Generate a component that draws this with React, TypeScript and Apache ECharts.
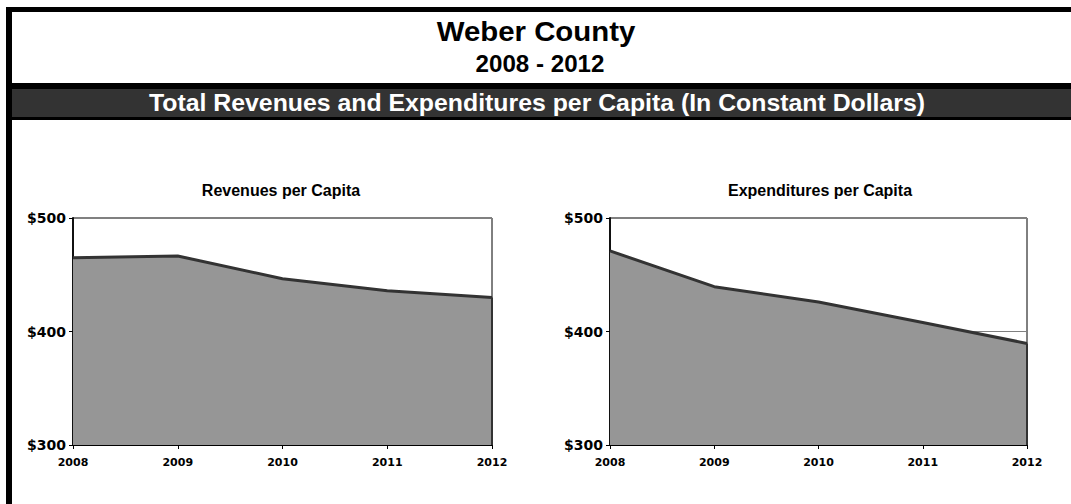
import React, { useEffect, useRef } from "react";
import * as echarts from "echarts";

const years = ["2008", "2009", "2010", "2011", "2012"];
const revenues = [465, 466.5, 446.5, 436, 430];
const expenditures = [471, 439.5, 426, 408, 389.5];
const yMin = 300;
const yMax = 500;
const yStep = 100;

const mainTitle = "Weber County";
const subTitle = "2008 - 2012";
const bannerTitle = "Total Revenues and Expenditures per Capita (In Constant Dollars)";
const chartTitles = ["Revenues per Capita", "Expenditures per Capita"];

const W = 1071;
const H = 504;
const titleFont = "'Liberation Sans', Arial, Helvetica, sans-serif";
const labelFont = "'DejaVu Sans', sans-serif";

function makeSeries(idx: number, name: string, values: number[]) {
  return {
    name,
    type: "line",
    xAxisIndex: idx,
    yAxisIndex: idx,
    data: values,
    symbol: "none",
    smooth: false,
    lineStyle: { color: "#333333", width: 3 },
    areaStyle: { color: "#969696", opacity: 1 },
    markLine: {
      silent: true,
      symbol: "none",
      label: { show: false },
      lineStyle: { color: "#333333", width: 2, type: "solid" },
      data: [
        [
          { coord: [years[years.length - 1], yMin] },
          { coord: [years[years.length - 1], values[values.length - 1]] },
        ],
      ],
    },
  };
}

function makeX(idx: number) {
  return {
    type: "category",
    gridIndex: idx,
    data: years,
    boundaryGap: false,
    axisLine: { show: true, lineStyle: { color: "#000", width: 1 } },
    axisTick: { show: true, inside: false, length: 4, lineStyle: { color: "#000" } },
    axisLabel: {
      color: "#000",
      fontFamily: labelFont,
      fontWeight: "bold",
      fontSize: 11,
      margin: 12,
    },
    splitLine: { show: false },
  };
}

function makeY(idx: number) {
  return {
    type: "value",
    gridIndex: idx,
    min: yMin,
    max: yMax,
    interval: yStep,
    axisLine: { show: true, lineStyle: { color: "#111", width: 2 } },
    axisTick: { show: true, inside: false, length: 4, lineStyle: { color: "#000" } },
    axisLabel: {
      color: "#000",
      fontFamily: labelFont,
      fontWeight: "bold",
      fontSize: 14,
      margin: 7,
      formatter: (v: number) => "$" + v,
    },
    splitLine: { show: true, lineStyle: { color: "#808080", width: 1 } },
  };
}

export default function App() {
  const ref = useRef<HTMLDivElement>(null);
  useEffect(() => {
    if (!ref.current) return;
    const chart = echarts.init(ref.current, undefined, { renderer: "svg", width: W, height: H });
    const option = {
      animation: false,
      backgroundColor: "#ffffff",
      grid: [
        { left: 73, right: W - 492, top: 218, bottom: H - 445, show: true, borderColor: "#000", borderWidth: 1, backgroundColor: "transparent" },
        { left: 610, right: W - 1027, top: 218, bottom: H - 445, show: true, borderColor: "#000", borderWidth: 1, backgroundColor: "transparent" },
      ],
      xAxis: [makeX(0), makeX(1)],
      yAxis: [makeY(0), makeY(1)],
      series: [makeSeries(0, chartTitles[0], revenues), makeSeries(1, chartTitles[1], expenditures)],
      graphic: [
        { type: "rect", shape: { x: 6, y: 7, width: W - 6, height: 5 }, style: { fill: "#000" } },
        { type: "rect", shape: { x: 6, y: 7, width: 6, height: H - 7 }, style: { fill: "#000" } },
        { type: "rect", shape: { x: 6, y: 83, width: W - 6, height: 37 }, style: { fill: "#000" } },
        { type: "rect", shape: { x: 12, y: 89, width: W - 12, height: 28 }, style: { fill: "#333333" } },
        {
          type: "text", x: 536, y: 31, scaleX: 1.05,
          style: { text: mainTitle, fill: "#000", font: `bold 28px ${titleFont}`, textAlign: "center", textVerticalAlign: "middle" },
        },
        {
          type: "text", x: 540, y: 64, scaleX: 1.05,
          style: { text: subTitle, fill: "#000", font: `bold 23px ${titleFont}`, textAlign: "center", textVerticalAlign: "middle" },
        },
        {
          type: "text", x: 537, y: 103, scaleX: 1.08,
          style: { text: bannerTitle, fill: "#fff", font: `bold 23px ${titleFont}`, textAlign: "center", textVerticalAlign: "middle" },
        },
        {
          type: "text", x: 281, y: 190, scaleX: 1.0,
          style: { text: chartTitles[0], fill: "#000", font: `bold 16px ${titleFont}`, textAlign: "center", textVerticalAlign: "middle" },
        },
        {
          type: "text", x: 820, y: 190, scaleX: 1.0,
          style: { text: chartTitles[1], fill: "#000", font: `bold 16px ${titleFont}`, textAlign: "center", textVerticalAlign: "middle" },
        },
      ],
    };
    chart.setOption(option as any);
    return () => chart.dispose();
  }, []);
  return (
    <div
      ref={ref}
      style={{ position: "fixed", left: 0, top: 0, width: W, height: H, background: "#fff" }}
    />
  );
}
